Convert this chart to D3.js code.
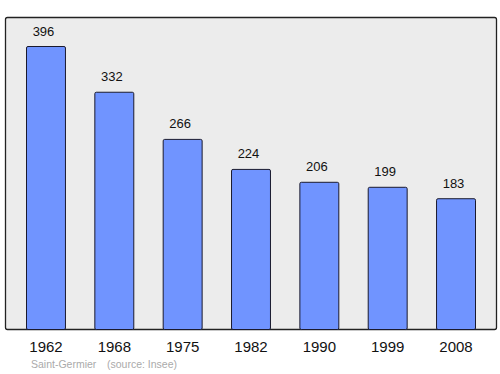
<!DOCTYPE html>
<html>
<head>
<meta charset="utf-8">
<script src="https://cdn.jsdelivr.net/npm/d3@7"></script>
<style>
  body { margin: 0; background: #fff; }
  text { font-family: "Liberation Sans", Arial, sans-serif; }
</style>
</head>
<body>
<div id="chart"></div>
<script>
// population per census year
var years = ["1962", "1968", "1975", "1982", "1990", "1999", "2008"];
var population = [396, 332, 266, 224, 206, 199, 183];
var townName = "Saint-Germier";
var sourceNote = "(source: Insee)";

var width = 500, height = 374;

var svg = d3.select("#chart").append("svg")
    .attr("width", width)
    .attr("height", height);

// frame of the plot
svg.append("rect")
    .attr("x", 5.5).attr("y", 17.5)
    .attr("width", 491).attr("height", 312)
    .attr("rx", 2)
    .attr("fill", "#ececec")
    .attr("stroke", "#222")
    .attr("stroke-width", 1.3);

var x = d3.scaleBand()
    .domain(years)
    .range([26, 475])
    .paddingInner(0.43)
    .paddingOuter(0);

var y = d3.scaleLinear()
    .domain([0, 396])
    .range([329, 46]);

var data = years.map(function(d, i) { return {year: d, value: population[i]}; });

svg.selectAll(".bar")
    .data(data)
    .enter().append("rect")
    .attr("class", "bar")
    .attr("x", function(d) { return x(d.year) + 0.5; })
    .attr("y", function(d) { return y(d.value) + 0.5; })
    .attr("width", x.bandwidth())
    .attr("height", function(d) { return y(0) - y(d.value); })
    .attr("rx", 1.5)
    .attr("fill", "#7094ff")
    .attr("stroke", "#1a1a2e")
    .attr("stroke-width", 1);

// value labels sit a touch left of bar centre, like the original
svg.selectAll(".val")
    .data(data)
    .enter().append("text")
    .attr("class", "val")
    .attr("x", function(d) { return x(d.year) + x.bandwidth() / 2 - 2; })
    .attr("y", function(d) { return y(d.value) - 10.5; })
    .attr("text-anchor", "middle")
    .attr("font-size", 13)
    .attr("fill", "#111")
    .text(function(d) { return d.value; });

// x axis labels
var axis = d3.axisBottom(x).tickSize(0).tickPadding(0);
var ax = svg.append("g")
    .attr("transform", "translate(0.5,341)")
    .call(axis);
ax.select(".domain").remove();
ax.selectAll("text")
    .attr("font-size", 15)
    .attr("fill", "#111")
    .attr("dy", "0.71em")
    .style("font-family", '"Liberation Sans", Arial, sans-serif');

svg.append("text")
    .attr("x", 31).attr("y", 367.5)
    .attr("font-size", 10.5)
    .attr("fill", "#aaa")
    .text(townName);

svg.append("text")
    .attr("x", 107).attr("y", 367.5)
    .attr("font-size", 10.5)
    .attr("fill", "#aaa")
    .text(sourceNote);
</script>
</body>
</html>
